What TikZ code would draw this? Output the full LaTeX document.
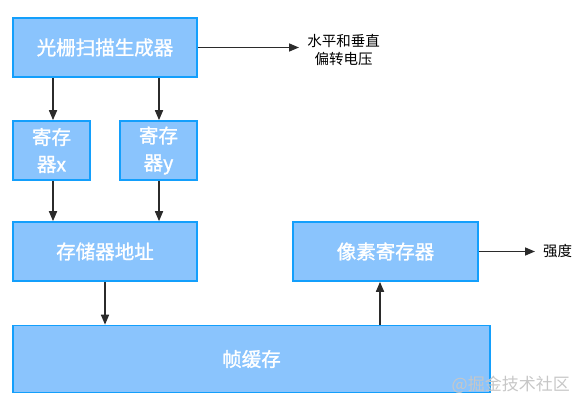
\documentclass[tikz,border=0pt]{standalone}
\usepackage{fontspec}
\setmainfont{Noto Sans CJK SC}
\newfontfamily\boxfont{Noto Sans CJK SC}[FakeBold=1.3]
\usetikzlibrary{arrows.meta,calc}
\definecolor{boxfill}{HTML}{8AC4FD}
\definecolor{boxline}{HTML}{139FFC}
\definecolor{arrowc}{HTML}{2B2B2B}
\tikzset{
  blk/.style={draw=boxline, fill=boxfill, line width=1.6pt, rectangle, inner sep=0pt,
    text=white, font=\boxfont\fontsize{19.5}{27}\selectfont, align=center},
  arr/.style={draw=arrowc, line width=1.6pt, -{Triangle[length=10pt,width=8pt]}},
  lbl/.style={font=\fontsize{14.5}{18}\selectfont, text=black, align=center, inner sep=0pt}
}
\begin{document}
\begin{tikzpicture}[x=1pt,y=-1pt]
\useasboundingbox (0,0) rectangle (584,410);
\node[blk, minimum width=184pt, minimum height=59pt] (gen) at (105,47.5) {光栅扫描生成器};
\node[blk, minimum width=77pt, minimum height=59pt] (regx) at (51.5,150.5) {寄存\\器x};
\node[blk, minimum width=77pt, minimum height=59pt] (regy) at (158.5,150.5) {寄存\\器y};
\node[blk, minimum width=184pt, minimum height=59pt] (addr) at (105,251.5) {存储器地址};
\node[blk, minimum width=185pt, minimum height=59pt] (pix) at (385.5,251.5) {像素寄存器};
\node[blk, minimum width=477pt, minimum height=67pt] (fb) at (251.5,359) {帧缓存};
\coordinate (volt) at (299,47.5);
\node[lbl] (voltl) at (343.5,50) {水平和垂直\\偏转电压};
\coordinate (intens) at (535,251.5);
\node[lbl, anchor=west] (intl) at (543,251.5) {强度};
\node[font=\fontsize{17}{20}\selectfont, text=black!22, anchor=east, inner sep=0pt] (wm) at (570,385) {@掘金技术社区};
\draw[arr] (gen.east) -- (volt);
\draw[arr] ([xshift=1.5pt]regx.north |- gen.south) -- ([xshift=1.5pt]regx.north);
\draw[arr] ([xshift=0.5pt]regy.north |- gen.south) -- ([xshift=0.5pt]regy.north);
\draw[arr] ([xshift=1.5pt]regx.south) -- ([xshift=1.5pt]regx.south |- addr.north);
\draw[arr] ([xshift=0.5pt]regy.south) -- ([xshift=0.5pt]regy.south |- addr.north);
\draw[arr] (addr.south) -- (addr.south |- fb.north);
\draw[arr] ([xshift=-5.5pt]pix.south |- fb.north) -- ([xshift=-5.5pt]pix.south);
\draw[arr] (pix.east) -- (intens);
\end{tikzpicture}
\end{document}
